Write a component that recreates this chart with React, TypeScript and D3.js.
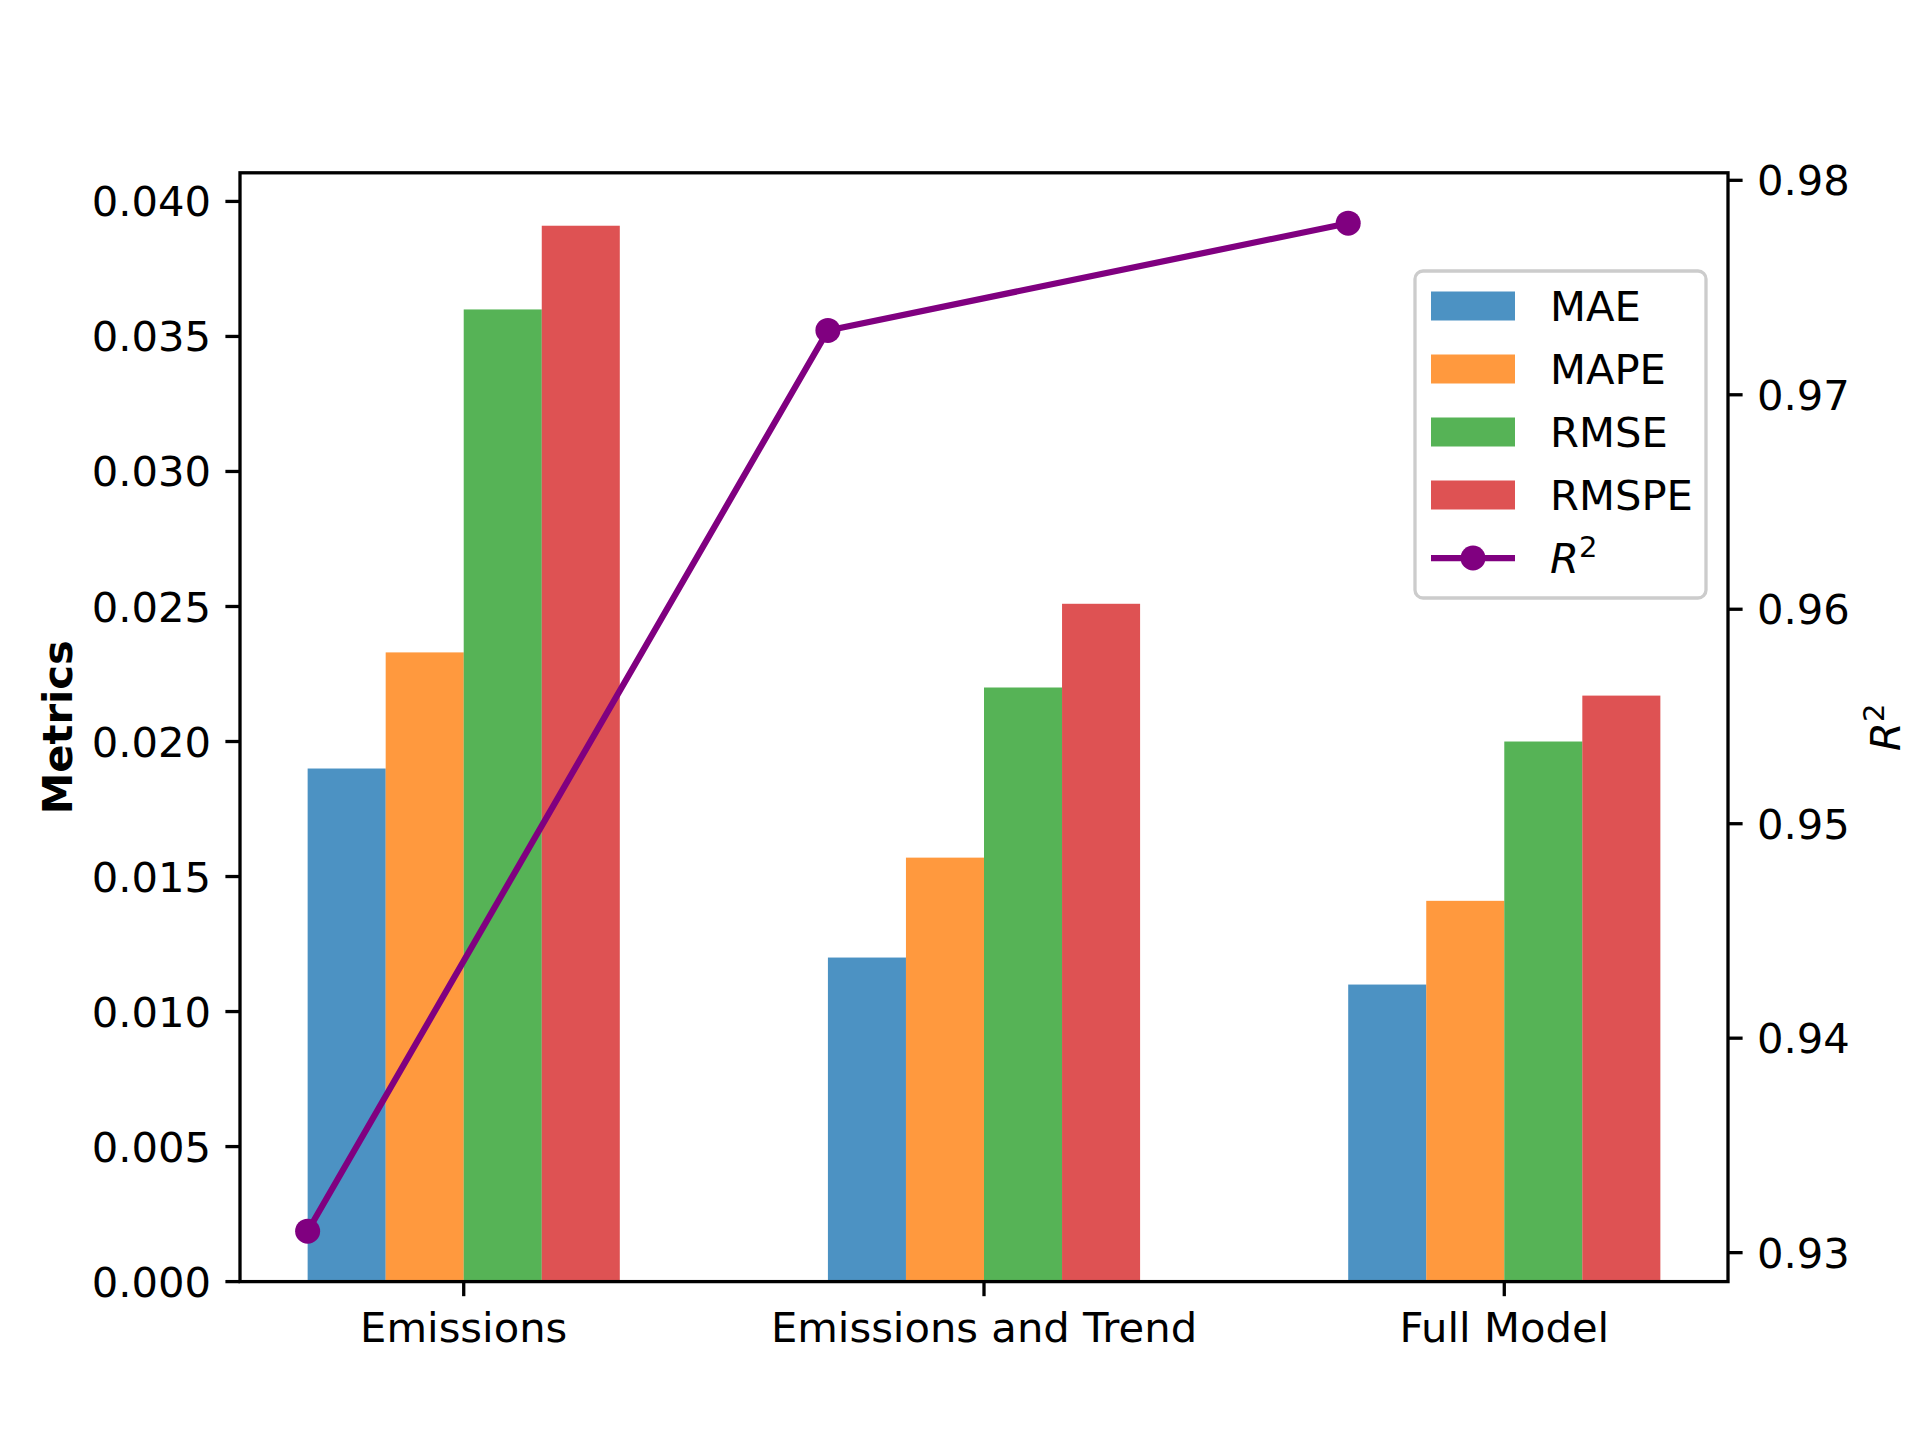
import React from "react";
import * as d3 from "d3";

const categories = ["Emissions", "Emissions and Trend", "Full Model"];
const seriesNames = ["MAE", "MAPE", "RMSE", "RMSPE"];
const mae = [0.019, 0.012, 0.011];
const mape = [0.0233, 0.0157, 0.0141];
const rmse = [0.036, 0.022, 0.02];
const rmspe = [0.0391, 0.0251, 0.0217];
const r2 = [0.931, 0.973, 0.978];
const leftTicks = [0, 0.005, 0.01, 0.015, 0.02, 0.025, 0.03, 0.035, 0.04];
const rightTicks = [0.93, 0.94, 0.95, 0.96, 0.97, 0.98];
const colors = ["#1f77b4", "#ff7f0e", "#2ca02c", "#d62728"];

export default function App() {
  const W = 1920, H = 1440;
  const L = 240, R = 1728, T = 172.8, B = 1281.6;
  const fs = 41.7;
  const bw = 0.15;
  const x = d3.scaleLinear().domain([-0.43, 2.43]).range([L, R]);
  const y = d3.scaleLinear().domain([0, 0.04106]).range([B, T]);
  const y2 = d3.scaleLinear().domain([0.92865, 0.98035]).range([B, T]);
  const series = [mae, mape, rmse, rmspe];
  const line = d3.line<number>().x((_, i) => x(i - 0.3)).y((d) => y2(d));
  const font = "DejaVu Sans";
  const lx = 1415, ly = 271;
  return (
    <svg width={W} height={H} style={{ display: "block", margin: -8 }} fontFamily={font}>
      <rect width={W} height={H} fill="white" />
      {series.map((vals, s) =>
        vals.map((v, i) => (
          <rect key={`${s}-${i}`} x={x(i + (s - 2) * bw)} width={x(bw) - x(0)} y={y(v)} height={B - y(v)} fill={colors[s]} fillOpacity={0.8} />
        ))
      )}
      <path d={line(r2) || ""} fill="none" stroke="purple" strokeWidth={6.25} />
      {r2.map((v, i) => (
        <circle key={i} cx={x(i - 0.3)} cy={y2(v)} r={12.5} fill="purple" />
      ))}
      <rect x={L} y={T} width={R - L} height={B - T} fill="none" stroke="black" strokeWidth={3.3} />
      {leftTicks.map((t) => (
        <g key={t}>
          <line x1={L} x2={L - 14.6} y1={y(t)} y2={y(t)} stroke="black" strokeWidth={3.3} />
          <text x={L - 29} y={y(t)} dy="0.36em" textAnchor="end" fontSize={fs}>{t.toFixed(3)}</text>
        </g>
      ))}
      {rightTicks.map((t) => (
        <g key={t}>
          <line x1={R} x2={R + 14.6} y1={y2(t)} y2={y2(t)} stroke="black" strokeWidth={3.3} />
          <text x={R + 29} y={y2(t)} dy="0.36em" textAnchor="start" fontSize={fs}>{t.toFixed(2)}</text>
        </g>
      ))}
      {categories.map((c, i) => (
        <g key={c}>
          <line x1={x(i)} x2={x(i)} y1={B} y2={B + 14.6} stroke="black" strokeWidth={3.3} />
          <text x={x(i)} y={B + 29} dy="0.76em" textAnchor="middle" fontSize={fs}>{c}</text>
        </g>
      ))}
      <text transform={`translate(72,${(T + B) / 2}) rotate(-90)`} textAnchor="middle" fontSize={fs} fontWeight="bold">Metrics</text>
      <text transform={`translate(1900,${(T + B) / 2}) rotate(-90)`} textAnchor="middle" fontSize={fs} fontStyle="italic">
        R<tspan dy={-16} fontSize={29} fontStyle="normal">2</tspan>
      </text>
      <rect x={lx} y={ly} width={291} height={327} rx={8} fill="white" fillOpacity={0.8} stroke="#cccccc" strokeWidth={3.3} />
      {seriesNames.map((n, i) => (
        <g key={n}>
          <rect x={1431} y={306 + i * 63 - 14.5} width={84} height={29} fill={colors[i]} fillOpacity={0.8} />
          <text x={1550} y={306 + i * 63} dy="0.36em" fontSize={fs}>{n}</text>
        </g>
      ))}
      <line x1={1431} x2={1515} y1={558} y2={558} stroke="purple" strokeWidth={6.25} />
      <circle cx={1473} cy={558} r={12.5} fill="purple" />
      <text x={1550} y={558} dy="0.36em" fontSize={fs} fontStyle="italic">
        R<tspan dy={-16} fontSize={29} fontStyle="normal">2</tspan>
      </text>
    </svg>
  );
}
